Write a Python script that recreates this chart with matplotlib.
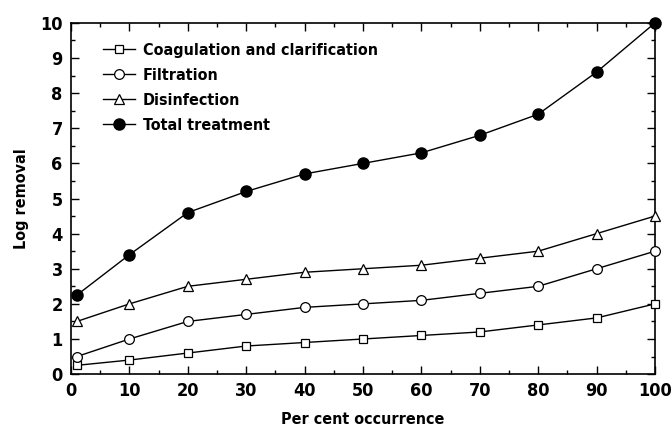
import matplotlib.pyplot as plt
from matplotlib.ticker import MultipleLocator

occurrence = [1, 10, 20, 30, 40, 50, 60, 70, 80, 90, 100]
coagulation = [0.25, 0.4, 0.6, 0.8, 0.9, 1.0, 1.1, 1.2, 1.4, 1.6, 2.0]
filtration = [0.5, 1.0, 1.5, 1.7, 1.9, 2.0, 2.1, 2.3, 2.5, 3.0, 3.5]
disinfection = [1.5, 2.0, 2.5, 2.7, 2.9, 3.0, 3.1, 3.3, 3.5, 4.0, 4.5]
total = [2.25, 3.4, 4.6, 5.2, 5.7, 6.0, 6.3, 6.8, 7.4, 8.6, 10.0]

plt.rcParams['font.family'] = ['DejaVu Sans']
plt.rcParams['font.stretch'] = 'condensed'
plt.rcParams['font.weight'] = 'bold'
plt.rcParams['axes.labelweight'] = 'bold'

fig = plt.figure(figsize=(6.72, 4.32), dpi=100)
ax = fig.add_axes([0.1057, 0.134, 0.869, 0.813])

style = dict(color='black', lw=1.0, clip_on=False, zorder=3)
ax.plot(occurrence, coagulation, marker='s', ms=6, mfc='white', mec='black', mew=0.9,
        label='Coagulation and clarification', **style)
ax.plot(occurrence, filtration, marker='o', ms=7, mfc='white', mec='black', mew=0.9,
        label='Filtration', **style)
ax.plot(occurrence, disinfection, marker='^', ms=7, mfc='white', mec='black', mew=0.9,
        label='Disinfection', **style)
ax.plot(occurrence, total, marker='o', ms=8, mfc='black', mec='black',
        label='Total treatment', **style)

ax.set_xlim(0, 100)
ax.set_ylim(0, 10)
ax.xaxis.set_major_locator(MultipleLocator(10))
ax.xaxis.set_minor_locator(MultipleLocator(5))
ax.yaxis.set_major_locator(MultipleLocator(1))
ax.yaxis.set_minor_locator(MultipleLocator(0.5))
ax.tick_params(which='both', direction='in', top=True, right=True, labelsize=13, width=1.0)
ax.tick_params(which='major', length=6, pad=6)
ax.tick_params(which='minor', length=3)
for sp in ax.spines.values():
    sp.set_linewidth(1.2)

ax.set_xlabel('Per cent occurrence', fontsize=11.5, labelpad=8)
ax.set_ylabel('Log removal', fontsize=11.5, labelpad=8)

ax.legend(loc='upper left', frameon=False, fontsize=11.5, handlelength=2.0,
          handletextpad=0.5, labelspacing=0.62, borderaxespad=0.3,
          bbox_to_anchor=(0.035, 0.975))

fig.savefig('out.png', dpi=100)
